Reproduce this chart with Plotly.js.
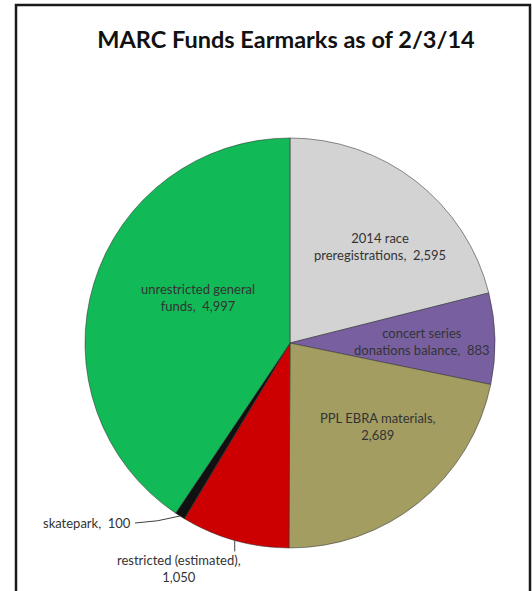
<!DOCTYPE html>
<html>
<head>
<meta charset="utf-8">
<script src="https://cdn.plot.ly/plotly-3.0.1.min.js"></script>
<style>html,body{margin:0;padding:0;background:#fff;}#chart{width:532px;height:591px;}</style>
</head>
<body>
<div id="chart"></div>
<script>
// ---- data ----
const labels = ['2014 race preregistrations', 'concert series donations balance', 'PPL EBRA materials', 'restricted (estimated)', 'skatepark', 'unrestricted general funds'];
const labelLines = ['2014 race<br>preregistrations', 'concert series<br>donations balance', 'PPL EBRA materials', 'restricted (estimated)', 'skatepark', 'unrestricted general<br>funds'];
const valueSep = [',  ', ',  ', ',<br>', ',<br>', ',  ', ',  '];
const values = [2595, 883, 2689, 1050, 100, 4997];
const colors = ['#D3D3D3', '#7860A0', '#A39D62', '#CC0000', '#111111', '#12BA57'];
const titleText = 'MARC Funds Earmarks as of 2/3/14';

// ---- geometry (pixels) ----
const W = 532, H = 591;
const cx = 290, cy = 343, R = 205;
const px = x => x / W;
const py = y => 1 - y / H;
// label anchor positions (pixels) and anchors
const labelPos = [
  { x: 380, y: 246, xa: 'center', ya: 'middle' },
  { x: 422, y: 341, xa: 'center', ya: 'middle' },
  { x: 378, y: 426, xa: 'center', ya: 'middle' },
  { x: 179, y: 550, xa: 'center', ya: 'top' },
  { x: 133, y: 523, xa: 'right', ya: 'middle' },
  { x: 198, y: 297, xa: 'center', ya: 'middle' }
];

const fmt = v => v.toLocaleString('en-US');
const texts = labels.map((l, i) => labelLines[i] + valueSep[i] + fmt(values[i]));

const total = values.reduce((a, b) => a + b, 0);
function edgePoint(i) {
  let cum = 0;
  for (let k = 0; k < i; k++) cum += values[k];
  const frac = (cum + values[i] / 2) / total;
  const th = frac * 2 * Math.PI;
  return { x: cx + R * Math.sin(th), y: cy - R * Math.cos(th) };
}

const labelFont = { family: 'Lato, "Open Sans", sans-serif', size: 13, color: '#333333' };

const trace = {
  type: 'pie',
  labels: labels,
  values: values,
  text: texts,
  textinfo: 'none',
  sort: false,
  direction: 'clockwise',
  rotation: 0,
  marker: { colors: colors, line: { color: 'rgba(50,50,50,0.55)', width: 1 } },
  domain: { x: [px(cx - R), px(cx + R)], y: [py(cy + R), py(cy - R)] },
  hoverinfo: 'label+value',
  showlegend: false
};

const annotations = texts.map((t, i) => ({
  xref: 'paper', yref: 'paper',
  x: px(labelPos[i].x), y: py(labelPos[i].y),
  xanchor: labelPos[i].xa, yanchor: labelPos[i].ya,
  text: t, showarrow: false, align: 'center', font: labelFont
}));

const skate = edgePoint(4);
const restr = edgePoint(3);
const skateTail = { x: 135, y: 523 };

const shapes = [
  { type: 'path', xref: 'paper', yref: 'paper',
    path: `M${px(16)},${py(600)} L${px(16)},${py(5)} L${px(530)},${py(5)} L${px(530)},${py(600)}`,
    line: { color: '#1a1a1a', width: 2.5 } },
  { type: 'path', xref: 'paper', yref: 'paper',
    path: `M${px(skateTail.x)},${py(skateTail.y)} Q${px(158)},${py(522)} ${px(skate.x)},${py(skate.y)}`,
    line: { color: '#404040', width: 1 } },
  { type: 'line', xref: 'paper', yref: 'paper',
    x0: px(restr.x), y0: py(restr.y), x1: px(restr.x), y1: py(restr.y + 11),
    line: { color: '#404040', width: 1 } }
];

const layout = {
  width: W, height: H,
  margin: { l: 0, r: 0, t: 0, b: 0 },
  paper_bgcolor: '#ffffff',
  title: { text: titleText, x: px(286), xanchor: 'center', y: py(40), yanchor: 'middle',
    font: { family: 'Lato, "Open Sans", sans-serif', size: 23.5, weight: 700, color: '#111111' } },
  annotations: annotations,
  shapes: shapes
};

Plotly.newPlot('chart', [trace], layout, { displayModeBar: false, staticPlot: true });
</script>
</body>
</html>
